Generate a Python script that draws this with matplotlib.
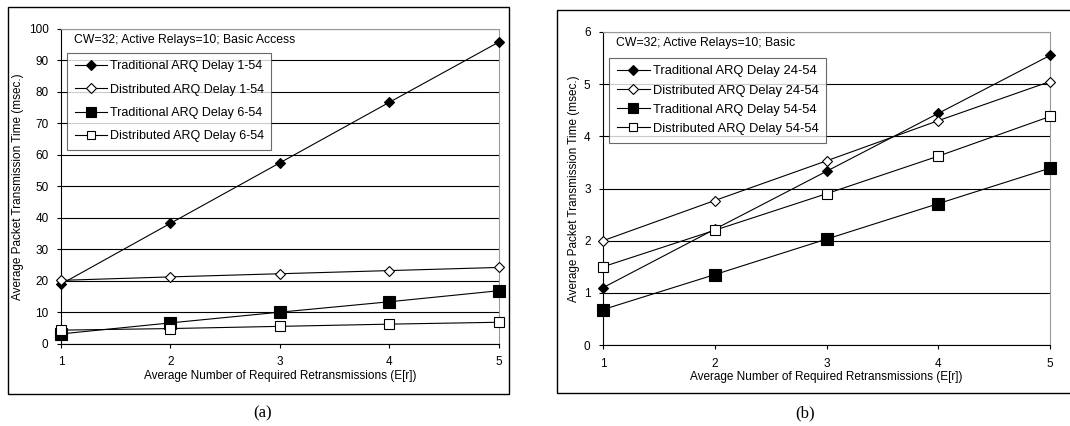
import matplotlib
matplotlib.use("Agg")
import matplotlib.pyplot as plt
from matplotlib.patches import Rectangle

plt.rcParams['font.family'] = ['Liberation Sans', 'DejaVu Sans']

# average number of retransmissions E[r]
x_vals = [1, 2, 3, 4, 5]

# panel (a)
trad_1_54 = [19.0, 38.3, 57.5, 76.7, 95.8]
dist_1_54 = [20.2, 21.3, 22.3, 23.3, 24.3]
trad_6_54 = [3.2, 6.7, 10.1, 13.4, 16.9]
dist_6_54 = [4.4, 4.9, 5.6, 6.3, 6.9]

# panel (b)
trad_24_54 = [1.10, 2.22, 3.33, 4.44, 5.55]
dist_24_54 = [2.00, 2.77, 3.53, 4.30, 5.05]
trad_54_54 = [0.68, 1.35, 2.03, 2.71, 3.39]
dist_54_54 = [1.50, 2.20, 2.90, 3.62, 4.38]

labels_a = ['Traditional ARQ Delay 1-54', 'Distributed ARQ Delay 1-54',
            'Traditional ARQ Delay 6-54', 'Distributed ARQ Delay 6-54']
labels_b = ['Traditional ARQ Delay 24-54', 'Distributed ARQ Delay 24-54',
            'Traditional ARQ Delay 54-54', 'Distributed ARQ Delay 54-54']

styles = [
    dict(marker='D', markersize=5.5, markerfacecolor='black'),
    dict(marker='D', markersize=5.5, markerfacecolor='white'),
    dict(marker='s', markersize=8.5, markerfacecolor='black'),
    dict(marker='s', markersize=6.5, markerfacecolor='white'),
]

fig = plt.figure(figsize=(10.7, 4.26), dpi=100)

# outer frames around each panel
fig.patches.append(Rectangle((0.0075, 0.075), 0.468, 0.909, transform=fig.transFigure,
                             fill=False, edgecolor='black', linewidth=1.0))
fig.patches.append(Rectangle((0.5205, 0.0775), 0.49, 0.899, transform=fig.transFigure,
                             fill=False, edgecolor='black', linewidth=1.0))

ax1 = fig.add_axes([0.057, 0.1925, 0.409, 0.7395])
ax2 = fig.add_axes([0.5636, 0.19, 0.4177, 0.735])


def draw_panel(ax, series, labels, ymax, ystep, note, legend_box, leg_size, leg_space):
    for ys, lab, st in zip(series, labels, styles):
        ax.plot(x_vals, ys, color='black', linewidth=0.8, markeredgecolor='black',
                markeredgewidth=0.8, label=lab, clip_on=False, zorder=3, **st)
    ax.set_xlim(1, 5)
    ax.set_ylim(0, ymax)
    ax.set_xticks(x_vals)
    ax.set_yticks(range(0, ymax + 1, ystep))
    ax.grid(axis='y', color='black', linewidth=0.8)
    ax.set_axisbelow(True)
    for s in ['top', 'right']:
        ax.spines[s].set_color('#999999')
    for s in ['left', 'bottom']:
        ax.spines[s].set_color('black')
    ax.tick_params(labelsize=8.5, length=3, width=0.8, direction='out', pad=6)
    ax.set_xlabel('Average Number of Required Retransmissions (E[r])', fontsize=8.5, labelpad=1)
    ax.set_ylabel('Average Packet Transmission Time (msec.)', fontsize=8.5, labelpad=3)
    ax.text(0.03, 0.985, note, transform=ax.transAxes, fontsize=8.8, va='top', ha='left')
    leg = ax.legend(loc='upper left', bbox_to_anchor=legend_box, fontsize=leg_size,
                    frameon=True, fancybox=False, edgecolor='#444444',
                    handlelength=2.6, handletextpad=0.2, labelspacing=leg_space,
                    borderpad=0.6, borderaxespad=0, markerscale=0.85)
    leg.get_frame().set_linewidth(0.8)


draw_panel(ax1, [trad_1_54, dist_1_54, trad_6_54, dist_6_54], labels_a, 100, 10,
           'CW=32; Active Relays=10; Basic Access', (0.014, 0.924), 9, 0.9)
draw_panel(ax2, [trad_24_54, dist_24_54, trad_54_54, dist_54_54], labels_b, 6, 1,
           'CW=32; Active Relays=10; Basic', (0.013, 0.918), 9.3, 0.55)

fig.text(0.245, 0.03, '(a)', fontsize=12, ha='center', va='center', family='Liberation Serif')
fig.text(0.752, 0.03, '(b)', fontsize=12, ha='center', va='center', family='Liberation Serif')

fig.savefig('out.png', dpi=100)
